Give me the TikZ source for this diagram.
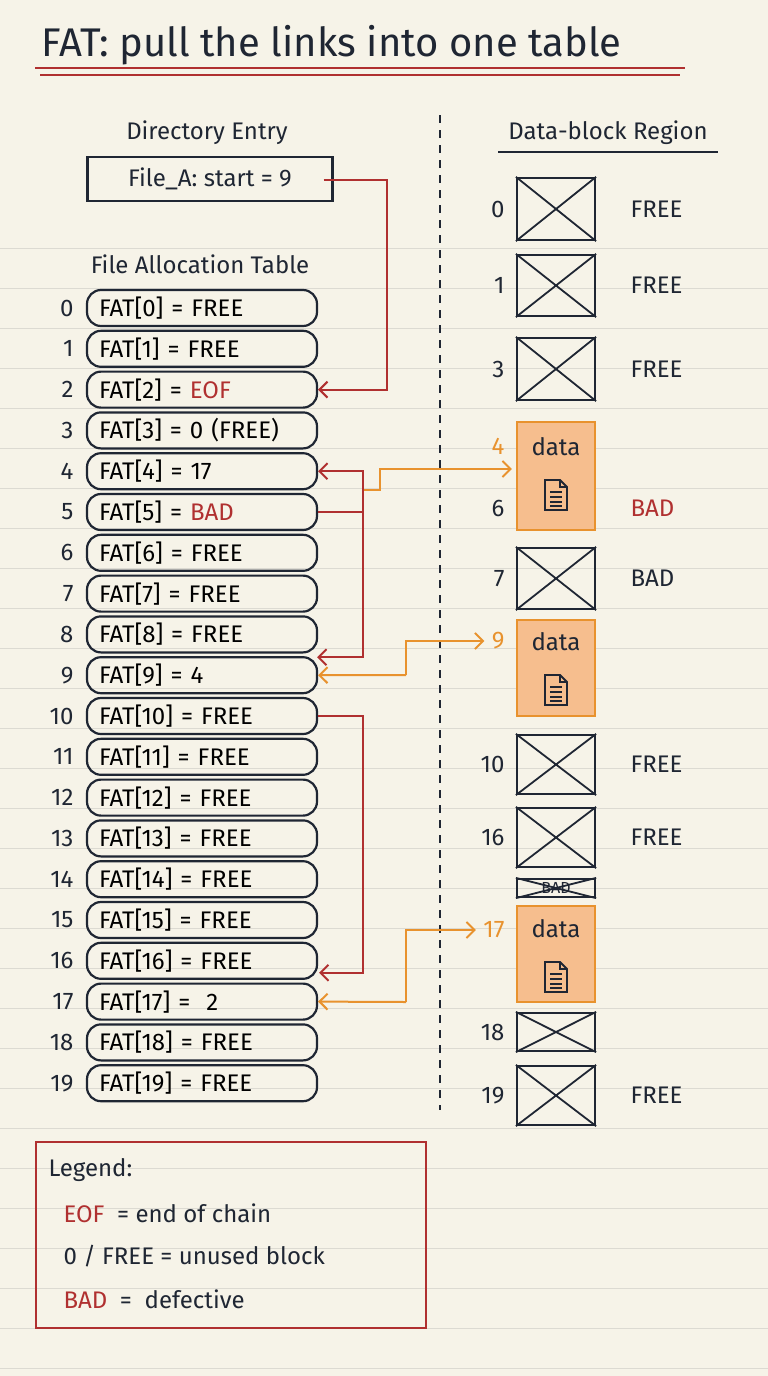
\documentclass[tikz,border=0pt]{standalone}
\usepackage{fontspec}
\setmainfont{Fira Sans}
\usepackage{xcolor}
\usetikzlibrary{arrows.meta,calc}
\definecolor{paper}{RGB}{246, 243, 232}
\definecolor{ink}{RGB}{31, 38, 51}
\definecolor{rule}{RGB}{220, 218, 210}
\definecolor{fatred}{RGB}{176, 48, 48}
\definecolor{fatorange}{RGB}{232, 146, 46}
\definecolor{datafill}{RGB}{246, 190, 142}
\tikzset{
    fatrow/.style={draw=ink, line width=2.2pt, rounded corners=14pt, minimum width=230pt, minimum height=36pt, inner sep=0pt, text width=206pt, align=left, font=\fontsize{24}{26}\selectfont},
    idx/.style={anchor=east, font=\fontsize{24}{26}\selectfont, text=ink},
    lbl/.style={font=\fontsize{24}{26}\selectfont, text=ink},
    blk/.style={draw=ink, line width=2.2pt, inner sep=0pt, minimum width=78pt},
    datablk/.style={draw=fatorange, fill=datafill, line width=2.2pt, inner sep=0pt, minimum width=78pt},
    redlink/.style={draw=fatred, line width=2pt, -{Straight Barb[length=8pt,width=16pt,line width=2pt]}},
    orangelink/.style={draw=fatorange, line width=2pt, -{Straight Barb[length=8pt,width=16pt,line width=2pt]}},
}
\newcommand{\xbox}[1]{\draw[ink, line width=1.8pt] (#1.north west) -- (#1.south east) (#1.north east) -- (#1.south west);}
\newcommand{\docicon}[1]{%
    \draw[ink, line width=1.8pt] ($(#1)+(-11,-15)$) -- ($(#1)+(4,-15)$) -- ($(#1)+(11,-8)$) -- ($(#1)+(11,15)$) -- ($(#1)+(-11,15)$) -- cycle;
    \draw[ink, line width=1.5pt] ($(#1)+(4,-15)$) -- ($(#1)+(4,-8)$) -- ($(#1)+(11,-8)$);
    \foreach \yy in {-3,2,7,11} \draw[ink, line width=1.4pt] ($(#1)+(-6,\yy)$) -- ($(#1)+(6,\yy)$);}

\begin{document}
\begin{tikzpicture}[x=1pt, y=-1pt]
    % Paper
    \fill[paper] (0,0) rectangle (768,1376);
    \useasboundingbox (0,0) rectangle (768,1376);
    \foreach \y in {248,288,...,1368}{
        \draw[rule, line width=1pt] (0,\y) -- (768,\y);
    }

    % Title
    \node[lbl, anchor=west, font=\fontsize{40}{44}\selectfont] (title) at (38,45) {FAT: pull the links into one table};
    \draw[fatred, line width=2pt] (35,68) -- (685,68);
    \draw[fatred, line width=1.6pt] (40,75) -- (680,75);

    % Directory entry
    \node[lbl] (dirlbl) at (207,133) {Directory Entry};
    \node[draw=ink, line width=2.2pt, minimum width=245pt, minimum height=44pt, lbl] (dir) at (210,179) {File\_A: start = 9};

    % File allocation table
    \node[lbl] (fatlbl) at (200,264) {File Allocation Table};
    \foreach \i/\val in {0/FREE, 1/FREE, 2/{\textcolor{fatred}{EOF}}, 3/{0 (FREE)}, 4/17, 5/{\textcolor{fatred}{BAD}}, 6/FREE, 7/FREE, 8/FREE, 9/4, 10/FREE, 11/FREE, 12/FREE, 13/FREE, 14/FREE, 15/FREE, 16/FREE, 17/{\ 2}, 18/FREE, 19/FREE}{
        \node[fatrow] (f\i) at (202,{308+40.8*\i}) {FAT[\i] = \val};
        \node[idx] (n\i) at (77,{308+40.8*\i}) {\i};
    }

    % Divider
    \draw[ink, line width=1.8pt, dash pattern=on 8pt off 7pt] (440,115) -- (440,1110);

    % Data-block region
    \node[lbl] (reglbl) at (608,133) {Data-block Region};
    \draw[ink, line width=1.8pt] (498,152) -- (718,152);
    \foreach \name/\top/\bot/\num/\stat in {b0/178/240/0/FREE, b1/255/316/1/FREE, b3/338/400/3/FREE, b7/548/609/7/BAD, b10/735/794/10/FREE, b16/808/867/16/FREE, b18/1013/1051/18/{}, b19/1066/1125/19/FREE}{
        \node[blk, minimum height={\bot-\top}] (\name) at (556,{(\top+\bot)/2}) {};
        \xbox{\name}
        \node[idx] (\name n) at (508,{(\top+\bot)/2}) {\num};
        \node[lbl, anchor=west] (\name s) at (627,{(\top+\bot)/2}) {\stat};
    }
    \node[blk, minimum height=18pt, font=\fontsize{16}{16}\selectfont, text=ink] (bbad) at (556,888) {BAD};
    \xbox{bbad}

    % Data blocks of File_A
    \node[datablk, minimum height=108pt] (d4) at (556,476) {};
    \node[datablk, minimum height=96pt] (d9) at (556,668) {};
    \node[datablk, minimum height=96pt] (d17) at (556,954) {};
    \foreach \d/\t in {d4/447, d9/642, d17/929}{
        \node[lbl] at (556,\t) {data};
        \docicon{556,\t+48}
    }
    \node[idx, text=fatorange] (n4) at (508,446) {4};
    \node[idx] (n6) at (508,508) {6};
    \node[lbl, anchor=west, text=fatred] (s6) at (627,508) {BAD};
    \node[idx, text=fatorange] (n9) at (508,641) {9};
    \node[idx, text=fatorange] (n17) at (508,930) {17};

    % Links
    \coordinate (j5) at ($(f5.east)+(45,0)$);
    \coordinate (j10) at ($(f10.east)+(45,0)$);
    \draw[redlink] ($(dir.east)+(-10,1)$) -- ++(63,0) |- (f2.east);
    \draw[fatred, line width=2pt] (f5.east) -- (j5);
    \draw[redlink] (j5) |- (f4.east);
    \draw[redlink] (j5) |- ($(f9.east)+(-1,-18)$);
    \draw[redlink] (f10.east) -- (j10) |- ($(f16.east)+(1,12)$);
    \draw[orangelink] (364,490) -- (380,490) |- ($(d4.west)+(-4,-7)$);
    \draw[orangelink] (406,675) |- ($(n9.west)+(-4,0)$);
    \draw[orangelink] (406,675) -- (f9.east);
    \draw[orangelink] (406,1002) |- ($(n17.west)+(-4,0)$);
    \draw[orangelink] (406,1002) -- (f17.east);

    % Legend
    \node[draw=fatred, line width=2pt, minimum width=390pt, minimum height=186pt] (legend) at (231,1235) {};
    \node[lbl, anchor=west] (lg0) at (45,1170) {Legend:};
    \node[lbl, anchor=west] (lg1) at (60,1213) {\textcolor{fatred}{EOF}\ \ = end of chain};
    \node[lbl, anchor=west] (lg2) at (60,1256) {0 / FREE = unused block};
    \node[lbl, anchor=west] (lg3) at (60,1299) {\textcolor{fatred}{BAD}\ \ = \ defective};
\end{tikzpicture}
\end{document}
